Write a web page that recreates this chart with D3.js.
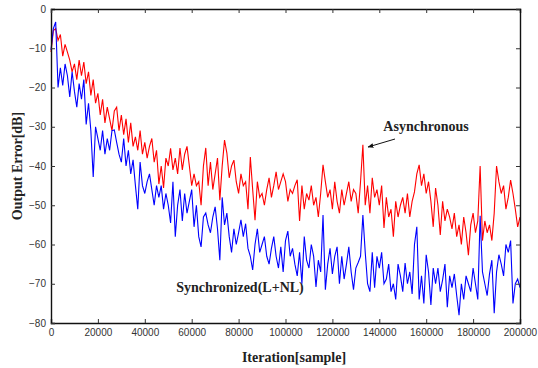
<!DOCTYPE html>
<html>
<head>
<meta charset="utf-8">
<script src="https://cdn.jsdelivr.net/npm/d3@7"></script>
<style>
  body { margin: 0; background: #fff; }
  .tick text { font-family: "Liberation Sans", Arial, sans-serif; font-size: 10px; fill: #333; }
  .title { font-family: "Liberation Serif", "Times New Roman", serif; font-weight: bold; font-size: 14px; fill: #222; }
</style>
</head>
<body>
<svg width="538" height="368"></svg>
<script>
// one sample every 1000 iterations
const step = 1000;

const asyncErr = [
  -11, -5.5, -5, -8, -6.5, -12, -9, -11, -13, -16,
  -14, -18, -13, -17, -13.5, -19, -16, -22, -18, -24,
  -21.5, -27, -23, -29, -25, -28, -31, -26, -25, -31,
  -27, -32, -28, -34, -29, -35, -32.6, -36, -31, -37,
  -34, -38, -35, -33, -39, -36, -44.6, -40, -45.6, -38,
  -40, -35.5, -41, -38, -42, -35.4, -41, -37, -35, -40,
  -45, -42, -45, -44, -50, -40, -35.4, -45, -39, -46,
  -42, -38, -48.7, -40, -33.4, -36.7, -43, -40, -38.5, -44,
  -47, -42, -45, -44, -51, -37.7, -46, -53.8, -44, -48,
  -47, -50, -46, -43, -48, -45, -41.5, -46, -44, -42,
  -44, -49, -46, -47, -45, -43.5, -54, -45, -51, -47,
  -48.7, -45, -50, -48, -53, -47, -39.7, -44, -48, -46,
  -51, -44, -49, -52, -46, -50, -47, -44, -49, -46,
  -47, -52, -44, -34.6, -50, -45, -52, -43, -48, -46,
  -50, -45, -55.8, -48, -53, -51, -58, -49, -53, -50,
  -48, -52, -47, -53, -49, -46.6, -42, -39.7, -45, -42,
  -47, -44, -49, -55.5, -45.6, -50, -57.6, -49, -54, -51,
  -53, -56, -52, -58, -55, -60, -53, -57, -62.7, -55,
  -52, -57, -54, -40, -59, -54, -57, -55, -59, -52,
  -40, -44, -47, -45, -51, -48, -43.6, -47, -51, -55.5,
  -53
];

const syncErr = [
  -10.4, -5, -3.3, -20, -15, -19.5, -14, -17, -22.4, -16,
  -21, -25, -19, -23, -18, -29.4, -24, -31, -42.8, -30,
  -33, -36, -31, -37, -33, -36, -31, -30.8, -34, -37,
  -39, -33, -40, -36, -42, -38.4, -45, -51, -39, -45,
  -47, -44, -42, -46, -50, -45, -48, -45, -51, -47,
  -50, -54.5, -44, -58, -50, -46, -54, -47, -52, -49,
  -46, -55.5, -50, -58, -60.6, -53, -52, -55, -57, -53,
  -50.4, -56, -64, -48, -55, -52, -58, -62, -56, -60,
  -57, -53.7, -58, -54.7, -61, -63, -66.5, -60, -56, -62,
  -60, -58, -63, -65, -61, -58, -63, -66, -60.6, -67,
  -59, -56.6, -63, -61, -65, -68, -62, -70, -58, -64,
  -66, -60, -63, -70.8, -64, -67, -52.5, -71.5, -65, -61,
  -67.5, -63, -60.6, -70, -63, -68.8, -65, -60.6, -67, -71.5,
  -66, -64.6, -63, -52.5, -62, -70, -72, -62, -71, -63,
  -66, -62, -70, -68.8, -65, -72, -70, -74, -65, -68,
  -72, -64.7, -70, -67, -72.6, -60, -55.5, -74, -68, -75,
  -62.6, -67, -75.4, -66, -70, -66, -72, -69, -65, -76,
  -68, -71, -67.5, -73, -78, -70, -74, -68, -70, -72,
  -66, -70, -74, -52.7, -67, -70, -73, -67.5, -64, -77.5,
  -67, -62.6, -65, -68, -60, -62, -59, -75, -70, -68.8,
  -71
];

const xTicks = [0, 20000, 40000, 60000, 80000, 100000, 120000, 140000, 160000, 180000, 200000];
const yTicks = [0, -10, -20, -30, -40, -50, -60, -70, -80];

const svg = d3.select('svg');
const plotL = 51, plotR = 520, plotT = 9, plotB = 323;

const x = d3.scaleLinear().domain([0, 200000]).range([plotL, plotR]);
const y = d3.scaleLinear().domain([-80, 0]).range([plotB, plotT]);

// lines
const line = d3.line()
  .x((d, i) => x(i * step))
  .y(d => y(d));

svg.append('path')
  .datum(asyncErr)
  .attr('d', line)
  .attr('fill', 'none')
  .attr('stroke', '#ff0000')
  .attr('stroke-width', 1.1);

svg.append('path')
  .datum(syncErr)
  .attr('d', line)
  .attr('fill', 'none')
  .attr('stroke', '#0000ff')
  .attr('stroke-width', 1.1);

// axes, ticks pointing inward
svg.append('g')
  .attr('transform', `translate(0,${plotB})`)
  .call(d3.axisBottom(x).tickValues(xTicks).tickFormat(d3.format('d')).tickSize(-4).tickPadding(6));

svg.append('g')
  .attr('transform', `translate(${plotL},0)`)
  .call(d3.axisLeft(y).tickValues(yTicks).tickFormat(d3.format('d')).tickSize(-4).tickPadding(5));

svg.append('g')
  .attr('transform', `translate(0,${plotT})`)
  .call(d3.axisTop(x).tickValues(xTicks).tickFormat('').tickSize(-4));

svg.append('g')
  .attr('transform', `translate(${plotR},0)`)
  .call(d3.axisRight(y).tickValues(yTicks).tickFormat('').tickSize(-4));

svg.selectAll('.domain').attr('stroke', '#111').attr('stroke-width', 1.4);
svg.selectAll('.tick line').attr('stroke', '#333');

// titles
svg.append('text')
  .attr('class', 'title')
  .attr('x', 294)
  .attr('y', 362)
  .attr('text-anchor', 'middle')
  .text('Iteration[sample]');

svg.append('text')
  .attr('class', 'title')
  .attr('transform', `translate(22,${(plotT + plotB) / 2}) rotate(-90)`)
  .attr('text-anchor', 'middle')
  .text('Output Error[dB]');

// annotations
svg.append('defs').append('marker')
  .attr('id', 'head')
  .attr('viewBox', '0 0 10 10')
  .attr('refX', 9).attr('refY', 5)
  .attr('markerWidth', 6).attr('markerHeight', 6)
  .attr('orient', 'auto')
  .append('path')
  .attr('d', 'M0,1 L10,5 L0,9 Z')
  .attr('fill', '#111');

svg.append('text')
  .attr('class', 'title')
  .attr('x', 426)
  .attr('y', 131)
  .attr('text-anchor', 'middle')
  .attr('font-size', 13.5)
  .text('Asynchronous');

svg.append('line')
  .attr('x1', 395).attr('y1', 139)
  .attr('x2', 368).attr('y2', 147)
  .attr('stroke', '#111')
  .attr('stroke-width', 1)
  .attr('marker-end', 'url(#head)');

svg.append('text')
  .attr('class', 'title')
  .attr('x', 240)
  .attr('y', 292)
  .attr('text-anchor', 'middle')
  .attr('font-size', 13.5)
  .text('Synchronized(L+NL)');
</script>
</body>
</html>
